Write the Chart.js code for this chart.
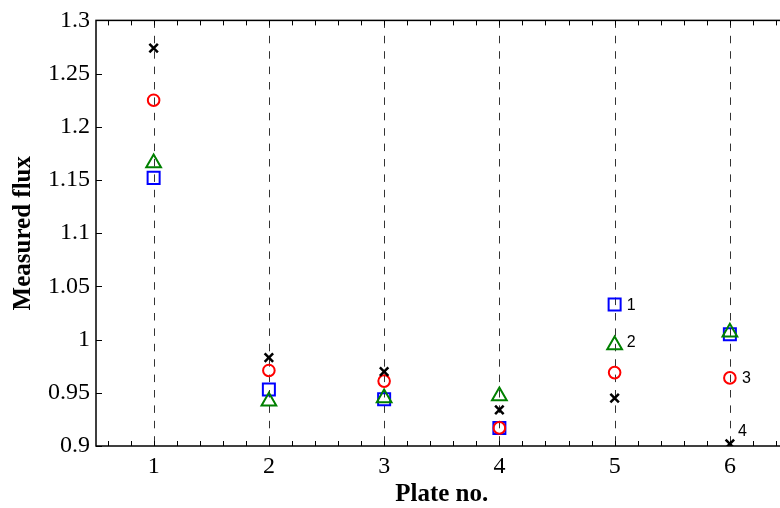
<!DOCTYPE html>
<html>
<head>
<meta charset="utf-8">
<script src="https://cdn.jsdelivr.net/npm/chart.js@4.4.0/dist/chart.umd.min.js"></script>
<style>
  html, body { margin: 0; padding: 0; background: #fff; overflow: hidden; }
  #wrap { width: 798px; height: 508px; }
</style>
</head>
<body>
<div id="wrap"><canvas id="chart" width="798" height="508"></canvas></div>
<script>
'use strict';

// ---- Data ----
const plates       = [1, 2, 3, 4, 5, 6];
const fluxSquare   = [1.152, 0.953, 0.944, 0.917, 1.033, 1.005];  // curve 1
const fluxTriangle = [1.166, 0.942, 0.945, 0.947, 0.995, 1.007];  // curve 2
const fluxCircle   = [1.225, 0.971, 0.961, 0.917, 0.969, 0.964];  // curve 3
const fluxCross    = [1.274, 0.983, 0.970, 0.934, 0.945, 0.902];  // curve 4

const xTicks      = [1, 2, 3, 4, 5, 6];
const yTicks      = [0.9, 0.95, 1, 1.05, 1.1, 1.15, 1.2, 1.25, 1.3];
const yTickLabels = ['0.9', '0.95', '1', '1.05', '1.1', '1.15', '1.2', '1.25', '1.3'];

// curve number labels, and the plate they sit next to
const curveLabels     = ['1', '2', '3', '4'];
const curveLabelPlate = [5, 5, 6, 6];

const curves = [fluxSquare, fluxTriangle, fluxCircle, fluxCross];

// ---- Styling ----
const SERIF = "'Liberation Serif', 'Times New Roman', serif";
const LABEL_OFFSETS = [[12, 1], [12, -2], [12, 1], [8, -12]];

const toPoints = arr => plates.map((p, i) => ({ x: p, y: arr[i] }));

// ---- Frame, dashed guides, inward ticks, curve labels ----
const axesFrame = {
  id: 'axesFrame',
  beforeDatasetsDraw(chart) {
    const { ctx, chartArea: a, scales: { x, y } } = chart;
    ctx.save();

    // dashed verticals at each plate
    ctx.strokeStyle = '#333';
    ctx.lineWidth = 1;
    ctx.setLineDash([7.5, 7.9]);
    xTicks.forEach(v => {
      const px = Math.round(x.getPixelForValue(v)) + 0.5;
      ctx.beginPath();
      ctx.moveTo(px, a.top);
      ctx.lineTo(px, a.bottom);
      ctx.stroke();
    });
    ctx.setLineDash([]);

    // box
    ctx.strokeStyle = '#000';
    ctx.lineWidth = 1.5;
    ctx.strokeRect(a.left, a.top, a.right - a.left, a.bottom - a.top);

    // x ticks every 0.2, top and bottom
    ctx.lineWidth = 1;
    ctx.beginPath();
    for (let k = 3; k <= 32; k++) {
      const px = Math.round(x.getPixelForValue(k * 0.2)) + 0.5;
      ctx.moveTo(px, a.bottom); ctx.lineTo(px, a.bottom - 5);
      ctx.moveTo(px, a.top);    ctx.lineTo(px, a.top + 5);
    }
    // y ticks, left and right
    yTicks.forEach(v => {
      const py = Math.round(y.getPixelForValue(v)) + 0.5;
      ctx.moveTo(a.left, py);  ctx.lineTo(a.left + 6, py);
      ctx.moveTo(a.right, py); ctx.lineTo(a.right - 7, py);
    });
    ctx.stroke();
    ctx.restore();
  },
  afterDatasetsDraw(chart) {
    const { ctx, scales: { x, y } } = chart;
    ctx.save();
    ctx.fillStyle = '#000';
    ctx.font = "16px 'Liberation Sans', Arial, sans-serif";
    ctx.textAlign = 'left';
    ctx.textBaseline = 'middle';
    curveLabels.forEach((t, i) => {
      const plate = curveLabelPlate[i];
      const val = curves[i][plates.indexOf(plate)];
      const [dx, dy] = LABEL_OFFSETS[i];
      ctx.fillText(t, x.getPixelForValue(plate) + dx, y.getPixelForValue(val) + dy);
    });
    ctx.restore();
  }
};

Chart.defaults.font.family = SERIF;
Chart.defaults.color = '#000';

// first dataset is drawn on top, so list the crosses first
new Chart(document.getElementById('chart'), {
  type: 'scatter',
  data: {
    datasets: [
      { label: '4', data: toPoints(fluxCross),    pointStyle: 'crossRot', radius: 6,   borderColor: '#000',    borderWidth: 2.5 },
      { label: '3', data: toPoints(fluxCircle),   pointStyle: 'circle',   radius: 5.8, borderColor: '#ff0000', borderWidth: 2, backgroundColor: 'transparent' },
      { label: '2', data: toPoints(fluxTriangle), pointStyle: 'triangle', radius: 8.5, borderColor: '#008000', borderWidth: 2, backgroundColor: 'transparent' },
      { label: '1', data: toPoints(fluxSquare),   pointStyle: 'rect',     radius: 8.5, borderColor: '#0000ff', borderWidth: 2, backgroundColor: 'transparent' },
    ]
  },
  options: {
    responsive: false,
    animation: false,
    layout: { padding: { top: 18, right: 3, left: 0, bottom: 0 } },
    plugins: { legend: { display: false }, tooltip: { enabled: false } },
    elements: { point: { hoverRadius: 6 } },
    scales: {
      x: {
        type: 'linear',
        min: 0.5, max: 6.5,
        grid: { display: false, drawTicks: false },
        border: { display: false },
        afterBuildTicks: s => { s.ticks = xTicks.map(v => ({ value: v })); },
        afterFit: s => { s.height = 62; },
        ticks: { padding: 6, font: { size: 24 }, autoSkip: false, maxRotation: 0 },
        title: { display: true, text: 'Plate no.', font: { size: 25, weight: 'bold' }, padding: { top: 0, bottom: -2 } }
      },
      y: {
        min: 0.9, max: 1.3,
        grid: { display: false, drawTicks: false },
        border: { display: false },
        afterBuildTicks: s => { s.ticks = yTicks.map(v => ({ value: v })); },
        afterFit: s => { s.width = 96; },
        ticks: {
          padding: 6, font: { size: 24 },
          callback: v => yTickLabels[yTicks.indexOf(v)]
        },
        title: { display: true, text: 'Measured flux', font: { size: 25, weight: 'bold' }, padding: { top: 9, bottom: 0 } }
      }
    }
  },
  plugins: [axesFrame]
});
</script>
</body>
</html>
